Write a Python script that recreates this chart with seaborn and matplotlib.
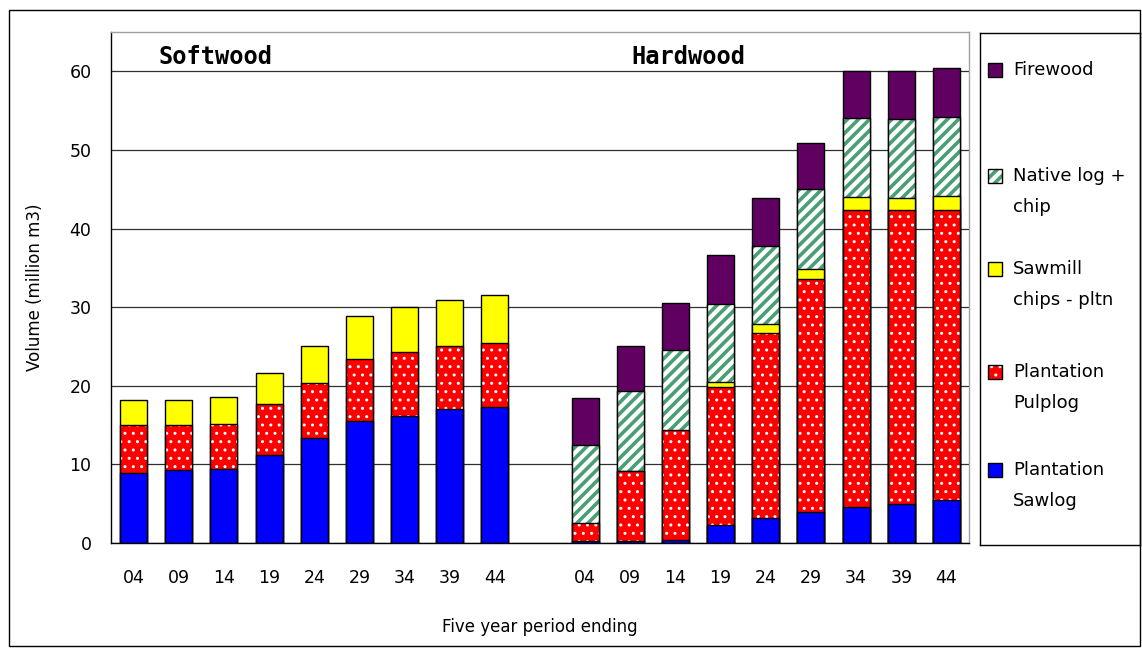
import numpy as np
import pandas as pd
import matplotlib
matplotlib.use("Agg")
import matplotlib.pyplot as plt
from matplotlib.patches import Rectangle
import seaborn as sns

# ---- data (million m3 per five-year period) ----
periods = ["04", "09", "14", "19", "24", "29", "34", "39", "44"]
groups = ["Softwood", "Hardwood"]

softwood_sawlog = [8.9, 9.3, 9.4, 11.2, 13.4, 15.5, 16.2, 17.0, 17.3]
softwood_pulplog = [6.1, 5.7, 5.8, 6.5, 6.9, 7.9, 8.1, 8.0, 8.2]
softwood_chips = [3.2, 3.2, 3.4, 3.9, 4.7, 5.5, 5.7, 5.9, 6.1]

hardwood_sawlog = [0.2, 0.3, 0.4, 2.3, 3.2, 4.0, 4.6, 5.0, 5.5]
hardwood_pulplog = [2.3, 8.8, 14.0, 17.5, 23.5, 29.6, 37.8, 37.3, 36.8]
hardwood_chips = [0.0, 0.1, 0.0, 0.7, 1.2, 1.3, 1.6, 1.6, 1.9]
hardwood_native = [10.0, 10.1, 10.1, 9.9, 9.9, 10.1, 10.0, 10.0, 10.0]
hardwood_firewood = [6.0, 5.8, 6.0, 6.2, 6.1, 5.9, 6.0, 6.1, 6.2]

series_keys = ["firewood", "native", "chips", "pulplog", "sawlog"]
series_labels = ["Firewood", "Native log +\nchip", "Sawmill\nchips - pltn",
                 "Plantation\nPulplog", "Plantation\nSawlog"]
y_ticks = [0, 10, 20, 30, 40, 50, 60]
x_title = "Five year period ending"
y_title = "Volume (million m3)"

# ---- styling per series ----
styles = {
    "firewood": dict(face="#600060", hatch=None, hcolor="#600060", hlw=1.0),
    "native": dict(face="white", hatch="///", hcolor="#4a9e74", hlw=2.6),
    "chips": dict(face="#ffff00", hatch=None, hcolor="#ffff00", hlw=1.0),
    "pulplog": dict(face="#ff0000", hatch="..", hcolor="white", hlw=1.0),
    "sawlog": dict(face="#0000ff", hatch=None, hcolor="#0000ff", hlw=1.0),
}

# ---- assemble tidy table of segments ----
soft = {"sawlog": softwood_sawlog, "pulplog": softwood_pulplog, "chips": softwood_chips}
hard = {"sawlog": hardwood_sawlog, "pulplog": hardwood_pulplog, "chips": hardwood_chips,
        "native": hardwood_native, "firewood": hardwood_firewood}
stack_order = ["sawlog", "pulplog", "chips", "native", "firewood"]

rows = []
for grp, table in (("S", soft), ("H", hard)):
    for i, p in enumerate(periods):
        base = 0.0
        for key in stack_order:
            if key not in table:
                continue
            val = table[key][i]
            rows.append(dict(slot=f"{grp}{p}", series=key, value=val, top=base + val))
            base += val
df = pd.DataFrame(rows)

order = [f"S{p}" for p in periods] + ["gap"] + [f"H{p}" for p in periods]
tick_text = periods + [""] + periods

# ---- figure ----
sns.set_style("white")
plt.rcParams["font.family"] = ["DejaVu Sans"]
plt.rcParams.update({"text.color": "black", "axes.labelcolor": "black",
                     "xtick.color": "black", "ytick.color": "black"})

fig = plt.figure(figsize=(11.42, 6.48), dpi=100)
ax = fig.add_axes([111 / 1142, 1 - 543 / 648, (969 - 111) / 1142, (543 - 32) / 648])

# draw cumulative layers from the top of the stack downward
for key in series_keys:
    layer = df[(df["series"] == key) & (df["value"] > 0)]
    st = styles[key]
    common = dict(data=layer, x="slot", y="top", order=order, ax=ax,
                  width=0.6, errorbar=None, saturation=1)
    with plt.rc_context({"hatch.linewidth": st["hlw"]}):
        sns.barplot(**common, color=st["face"], hatch=st["hatch"],
                    edgecolor=st["hcolor"], linewidth=0)
    sns.barplot(**common, fill=False, color="black", linewidth=1.0)

# axes formatting
ax.set_xlim(-0.5, len(order) - 0.5)
ax.set_ylim(0, 65)
ax.set_yticks(y_ticks)
ax.set_yticklabels([str(v) for v in y_ticks], fontsize=12.5)
ax.set_xticks(range(len(order)))
ax.set_xticklabels(tick_text, fontsize=12.5)
ax.set_xticks(np.arange(-0.5, len(order)), minor=True)
ax.tick_params(axis="x", which="major", length=0, pad=19)
ax.tick_params(axis="x", which="minor", length=6, width=1, color="black", direction="out")
ax.tick_params(axis="y", length=6, width=1, color="black", direction="out", pad=8)
ax.set_axisbelow(True)
ax.yaxis.grid(True, color="#303030", linewidth=0.9)
ax.xaxis.grid(False)
ax.set_xlabel(x_title, fontsize=12, labelpad=22)
ax.set_ylabel(y_title, fontsize=12, labelpad=18)
for side in ("left", "bottom"):
    ax.spines[side].set_color("black")
    ax.spines[side].set_linewidth(1.0)
for side in ("top", "right"):
    ax.spines[side].set_color("#a0a0a0")
    ax.spines[side].set_linewidth(1.0)

# group headings
ax.text(1.82, 61.8, groups[0], ha="center", va="center", fontsize=17,
        fontweight="bold", family="DejaVu Sans Mono")
ax.text(12.28, 61.8, groups[1], ha="center", va="center", fontsize=17,
        fontweight="bold", family="DejaVu Sans Mono")

# ---- legend panel ----
lax = fig.add_axes([980 / 1142, 1 - 545 / 648, 160 / 1142, 512 / 648])
lax.set_xlim(0, 160)
lax.set_ylim(512, 0)
lax.set_xticks([])
lax.set_yticks([])
for sp in lax.spines.values():
    sp.set_color("black")
    sp.set_linewidth(1.0)
entry_y = [37, 143, 236, 339, 437]
for key, label, yc in zip(series_keys, series_labels, entry_y):
    st = styles[key]
    with plt.rc_context({"hatch.linewidth": st["hlw"]}):
        lax.add_patch(Rectangle((8, yc - 7), 14, 14, facecolor=st["face"],
                                hatch=st["hatch"], edgecolor=st["hcolor"], linewidth=0))
    lax.add_patch(Rectangle((8, yc - 7), 14, 14, fill=False, edgecolor="black", linewidth=1.0))
    for j, line in enumerate(label.split("\n")):
        lax.text(33, yc + j * 31, line, ha="left", va="center", fontsize=13)

# outer frame
fig.add_artist(Rectangle((9 / 1142, 2 / 648), 1131 / 1142, 636 / 648,
                         transform=fig.transFigure, fill=False,
                         edgecolor="black", linewidth=1.0))

fig.savefig("out.png", dpi=100, facecolor="white")
